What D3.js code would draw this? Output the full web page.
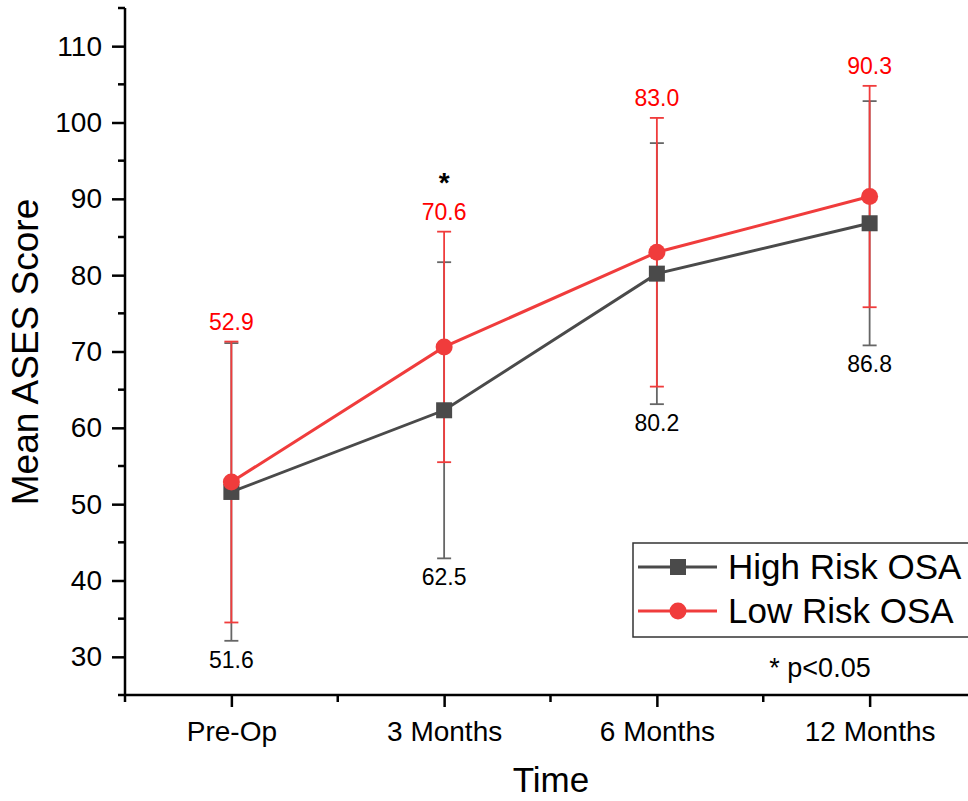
<!DOCTYPE html>
<html>
<head>
<meta charset="utf-8">
<script src="https://cdn.jsdelivr.net/npm/d3@7"></script>
<style>
  body { margin: 0; background: #fff; }
  svg { font-family: Arial, "Liberation Sans", sans-serif; }
</style>
</head>
<body>
<div id="chart"></div>
<script>
var timepoints = ["Pre-Op", "3 Months", "6 Months", "12 Months"];
var highMean = [51.6, 62.3, 80.2, 86.8];
var highSD = [19.5, 19.4, 17.1, 16.0];
var lowMean = [52.9, 70.6, 83.0, 90.3];
var lowSD = [18.4, 15.1, 17.6, 14.5];
var highLabels = ["51.6", "62.5", "80.2", "86.8"];
var lowLabels = ["52.9", "70.6", "83.0", "90.3"];
var sigIndex = [1];

var width = 968, height = 801;
var grey = "#4a4a4a", greyBar = "#666666", red = "#f03c3c", redText = "#ff0000";

var svg = d3.select("#chart").append("svg")
    .attr("width", width).attr("height", height);

var x = d3.scaleLinear().domain([0.5, 4.5]).range([125, 976]);
var y = d3.scaleLinear().domain([25, 115]).range([695, 8]);

// y axis
var yAxis = svg.append("g").attr("transform", "translate(125,0)");
yAxis.call(d3.axisLeft(y).tickValues(d3.range(30, 111, 10)).tickSize(13).tickPadding(10).tickSizeOuter(0))
yAxis.select(".domain").remove();
yAxis.selectAll(".tick line").attr("stroke", "#000").attr("stroke-width", 2.5);
yAxis.selectAll(".tick text").attr("font-size", 28).attr("fill", "#000");
yAxis.selectAll(".minor").data(d3.range(25, 116, 10)).enter().append("line")
    .attr("x1", -7).attr("x2", 0)
    .attr("y1", function(d){ return y(d); }).attr("y2", function(d){ return y(d); })
    .attr("stroke", "#000").attr("stroke-width", 2.5);

// x axis
var xAxis = svg.append("g").attr("transform", "translate(0,695)");
xAxis.call(d3.axisBottom(x).tickValues([1, 2, 3, 4]).tickFormat(function(d){ return timepoints[d-1]; })
    .tickSize(12).tickPadding(14).tickSizeOuter(0));
xAxis.select(".domain").remove();
xAxis.selectAll(".tick line").attr("stroke", "#000").attr("stroke-width", 2.5);
xAxis.selectAll(".tick text").attr("font-size", 28).attr("fill", "#000");
xAxis.selectAll(".minor").data([0.5, 1.5, 2.5, 3.5]).enter().append("line")
    .attr("x1", function(d){ return x(d); }).attr("x2", function(d){ return x(d); })
    .attr("y1", 0).attr("y2", 7)
    .attr("stroke", "#000").attr("stroke-width", 2.5);

svg.append("line").attr("x1", 125).attr("x2", 125).attr("y1", y(115)).attr("y2", y(25))
    .attr("stroke", "#000").attr("stroke-width", 2.5);
svg.append("line").attr("x1", 124).attr("x2", width).attr("y1", 695).attr("y2", 695)
    .attr("stroke", "#000").attr("stroke-width", 2.5);

// axis titles
svg.append("text").attr("x", 551).attr("y", 792).attr("text-anchor", "middle")
    .attr("font-size", 35).text("Time");
svg.append("text").attr("transform", "translate(38,352) rotate(-90)").attr("text-anchor", "middle")
    .attr("font-size", 37).text("Mean ASES Score");

function drawBars(mean, sd, color) {
  var g = svg.append("g");
  mean.forEach(function(m, i) {
    var cx = x(i + 1), top = y(m + sd[i]), bot = y(m - sd[i]);
    g.append("line").attr("x1", cx).attr("x2", cx).attr("y1", top).attr("y2", bot)
        .attr("stroke", color).attr("stroke-width", 1.8);
    [top, bot].forEach(function(yy) {
      g.append("line").attr("x1", cx - 7).attr("x2", cx + 7).attr("y1", yy).attr("y2", yy)
          .attr("stroke", color).attr("stroke-width", 1.8);
    });
  });
}

var line = d3.line().x(function(d, i){ return x(i + 1); }).y(function(d){ return y(d); });

drawBars(highMean, highSD, greyBar);
drawBars(lowMean, lowSD, red);

svg.append("path").datum(highMean).attr("d", line)
    .attr("fill", "none").attr("stroke", grey).attr("stroke-width", 3);
svg.append("path").datum(lowMean).attr("d", line)
    .attr("fill", "none").attr("stroke", red).attr("stroke-width", 3);

svg.selectAll(".sq").data(highMean).enter().append("rect")
    .attr("x", function(d, i){ return x(i + 1) - 8; })
    .attr("y", function(d){ return y(d) - 8; })
    .attr("width", 16).attr("height", 16).attr("fill", grey);
svg.selectAll(".dot").data(lowMean).enter().append("circle")
    .attr("cx", function(d, i){ return x(i + 1); })
    .attr("cy", function(d){ return y(d); })
    .attr("r", 8.5).attr("fill", red);

// value labels
svg.selectAll(".lowlab").data(lowLabels).enter().append("text")
    .attr("x", function(d, i){ return x(i + 1); })
    .attr("y", function(d, i){ return y(lowMean[i] + lowSD[i]) - 12; })
    .attr("text-anchor", "middle").attr("font-size", 23).attr("fill", redText)
    .text(function(d){ return d; });
svg.selectAll(".highlab").data(highLabels).enter().append("text")
    .attr("x", function(d, i){ return x(i + 1); })
    .attr("y", function(d, i){ return y(highMean[i] - highSD[i]) + 27; })
    .attr("text-anchor", "middle").attr("font-size", 23).attr("fill", "#000")
    .text(function(d){ return d; });

sigIndex.forEach(function(i) {
  svg.append("text").attr("x", x(i + 1)).attr("y", 192).attr("text-anchor", "middle")
      .attr("font-size", 28).attr("font-weight", "bold").text("*");
});

// legend
var leg = svg.append("g");
leg.append("rect").attr("x", 633).attr("y", 543).attr("width", 345).attr("height", 94)
    .attr("fill", "#fff").attr("stroke", "#333").attr("stroke-width", 1.5);
var legItems = [
  {name: "High Risk OSA", color: grey, shape: "square", cy: 567},
  {name: "Low Risk OSA", color: red, shape: "circle", cy: 611}
];
legItems.forEach(function(d) {
  leg.append("line").attr("x1", 638).attr("x2", 717).attr("y1", d.cy).attr("y2", d.cy)
      .attr("stroke", d.color).attr("stroke-width", 3);
  if (d.shape === "square") {
    leg.append("rect").attr("x", 670).attr("y", d.cy - 8).attr("width", 16).attr("height", 16).attr("fill", d.color);
  } else {
    leg.append("circle").attr("cx", 678).attr("cy", d.cy).attr("r", 8.5).attr("fill", d.color);
  }
  leg.append("text").attr("x", 728).attr("y", d.cy + 12).attr("font-size", 35).text(d.name);
});

svg.append("text").attr("x", 820).attr("y", 677).attr("text-anchor", "middle")
    .attr("font-size", 27).text("* p<0.05");
</script>
</body>
</html>
